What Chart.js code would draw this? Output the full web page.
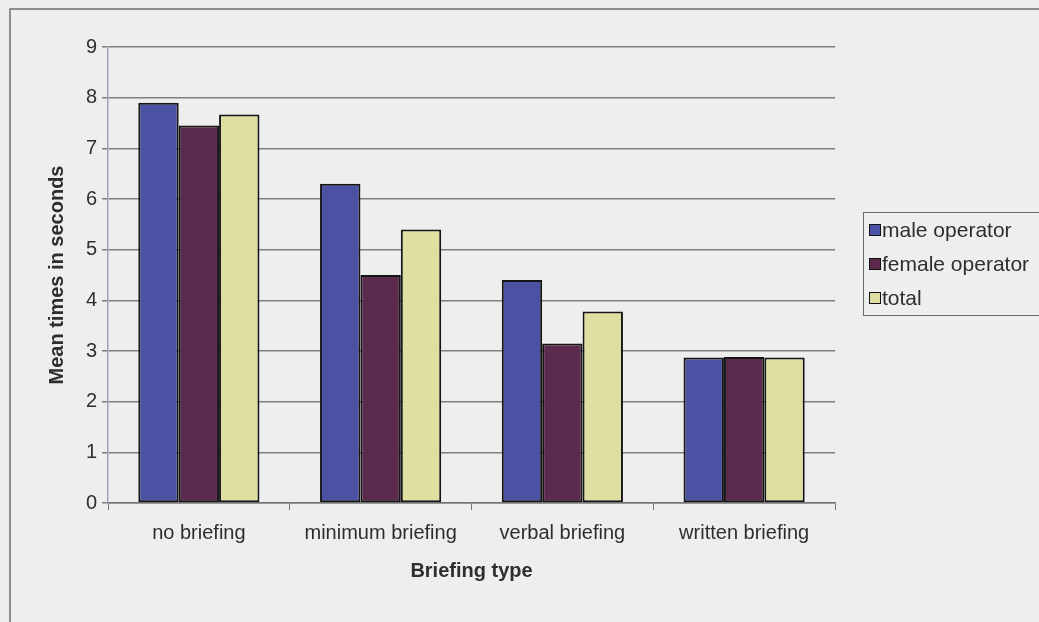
<!DOCTYPE html>
<html>
<head>
<meta charset="utf-8">
<title>Mean times by briefing type</title>
<script src="https://cdn.jsdelivr.net/npm/chart.js@4/dist/chart.umd.min.js"></script>
<style>
  html, body { margin: 0; padding: 0; background: #eeeeee; }
  #wrap { width: 1039px; height: 622px; position: relative; }
</style>
</head>
<body>
<div id="wrap"><canvas id="briefingChart"></canvas></div>
<script>
// ── data ─────────────────────────────────────────────
const briefingTypes = ['no briefing', 'minimum briefing', 'verbal briefing', 'written briefing'];
const maleTimes = [7.9, 6.3, 4.4, 2.87];
const femaleTimes = [7.45, 4.5, 3.15, 2.88];
const totalTimes = [7.67, 5.4, 3.78, 2.87];
const yTicks = [0, 1, 2, 3, 4, 5, 6, 7, 8, 9];

const seriesLabels = ['male operator', 'female operator', 'total'];
const seriesColors = ['#4b52a3', '#5b2a4c', '#e0dfa2'];

const FONT = '"Liberation Sans", Arial, sans-serif';
const TEXT = '#2e2e2e';

// frame around the whole chart + boxed legend on the right
const framePlugin = {
    id: 'frame',
    beforeDraw(chart) {
        const ctx = chart.ctx;
        ctx.save();
        ctx.fillStyle = '#eeeeee';
        ctx.fillRect(0, 0, chart.width, chart.height);
        ctx.strokeStyle = '#6f6f6f';
        ctx.lineWidth = 1.5;
        ctx.strokeRect(10, 9, chart.width + 20, chart.height + 20);
        ctx.restore();
    },
    afterDraw(chart) {
        const ctx = chart.ctx;
        ctx.save();
        ctx.strokeStyle = '#6a6a6a';
        ctx.lineWidth = 1;
        ctx.strokeRect(863.5, 212.5, 200, 103);
        ctx.font = '21px ' + FONT;
        ctx.textBaseline = 'middle';
        ctx.fillStyle = TEXT;
        const rows = [230, 264, 298];
        chart.data.datasets.forEach((ds, i) => {
            const y = rows[i];
            ctx.fillStyle = ds.backgroundColor;
            ctx.fillRect(869, y - 6, 11, 11);
            ctx.strokeStyle = '#111';
            ctx.strokeRect(869.5, y - 5.5, 11, 11);
            ctx.fillStyle = TEXT;
            ctx.fillText(ds.label, 882, y + 1);
        });
        ctx.restore();
    }
};

const makeSet = (i, data) => ({
    label: seriesLabels[i],
    data: data,
    backgroundColor: seriesColors[i],
    borderColor: '#151515',
    borderWidth: 2,
    borderSkipped: false,
    categoryPercentage: 3 / 4.5,
    barPercentage: 1.0,
});

new Chart(document.getElementById('briefingChart').getContext('2d'), {
    type: 'bar',
    data: {
        labels: briefingTypes,
        datasets: [
            makeSet(0, maleTimes),
            makeSet(1, femaleTimes),
            makeSet(2, totalTimes),
        ],
    },
    options: {
        responsive: true,
        maintainAspectRatio: false,
        animation: false,
        layout: { padding: { left: 0, top: 47, right: 204, bottom: 39 } },
        plugins: {
            legend: { display: false },
            tooltip: { enabled: false },
        },
        scales: {
            x: {
                grid: {
                    offset: true,
                    drawOnChartArea: false,
                    drawTicks: true,
                    tickLength: 7,
                    color: '#777777',
                },
                border: { color: '#777777', width: 1.5 },
                ticks: {
                    color: TEXT,
                    padding: 11,
                    font: { family: FONT, size: 20 },
                    maxRotation: 0,
                },
                title: {
                    display: true,
                    text: 'Briefing type',
                    color: TEXT,
                    font: { family: FONT, size: 20, weight: 'bold' },
                    padding: { top: 0, bottom: 0 },
                },
                afterFit: (scale) => { scale.height = 80; },
            },
            y: {
                min: 0,
                max: 9,
                afterBuildTicks: (scale) => { scale.ticks = yTicks.map(v => ({ value: v })); },
                grid: {
                    color: '#7e7e7e',
                    lineWidth: 1.5,
                    tickLength: 6,
                },
                border: { color: '#a99bb8', width: 1.5 },
                ticks: {
                    color: TEXT,
                    padding: 5,
                    font: { family: FONT, size: 20 },
                },
                title: {
                    display: true,
                    text: 'Mean times in seconds',
                    color: TEXT,
                    font: { family: FONT, size: 20, weight: 'bold' },
                    padding: { top: 45, bottom: 0 },
                },
                afterFit: (scale) => { scale.width = 108; },
            },
        },
    },
    plugins: [framePlugin],
});
</script>
</body>
</html>
